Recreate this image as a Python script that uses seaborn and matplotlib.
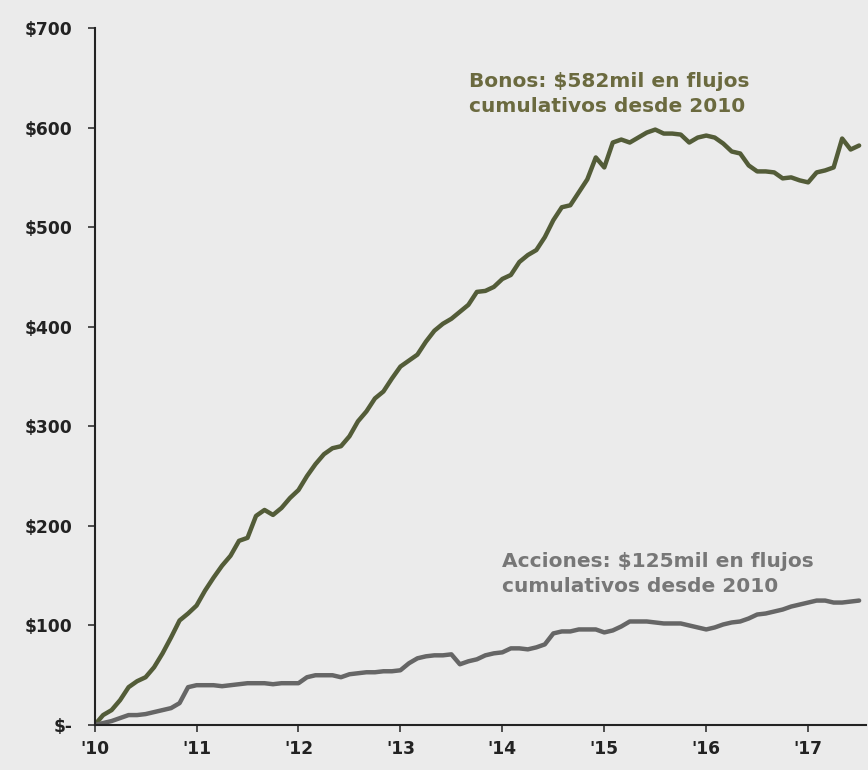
import numpy as np
import pandas as pd
import matplotlib
matplotlib.use("Agg")
import matplotlib.pyplot as plt
import seaborn as sns

# Monthly cumulative flows (USD bn), Jan 2010 .. Jul 2017
bonos = [0, 10, 15, 25, 38, 44, 48, 58, 72, 88, 105, 112,
         120, 135, 148, 160, 170, 185, 188, 210, 216, 211, 218, 228,
         236, 250, 262, 272, 278, 280, 290, 305, 315, 328, 335, 348,
         360, 366, 372, 385, 396, 403, 408, 415, 422, 435, 436, 440,
         448, 452, 465, 472, 477, 490, 507, 520, 522, 535, 548, 570,
         560, 585, 588, 585, 590, 595, 598, 594, 594, 593, 585, 590,
         592, 590, 584, 576, 574, 562, 556, 556, 555, 549, 550, 547,
         545, 555, 557, 560, 589, 578, 582]
acciones = [0, 2, 4, 7, 10, 10, 11, 13, 15, 17, 22, 38,
            40, 40, 40, 39, 40, 41, 42, 42, 42, 41, 42, 42,
            42, 48, 50, 50, 50, 48, 51, 52, 53, 53, 54, 54,
            55, 62, 67, 69, 70, 70, 71, 61, 64, 66, 70, 72,
            73, 77, 77, 76, 78, 81, 92, 94, 94, 96, 96, 96,
            93, 95, 99, 104, 104, 104, 103, 102, 102, 102, 100, 98,
            96, 98, 101, 103, 104, 107, 111, 112, 114, 116, 119, 121,
            123, 125, 125, 123, 123, 124, 125]
year_ticks = [2010, 2011, 2012, 2013, 2014, 2015, 2016, 2017]
year_labels = ["'10", "'11", "'12", "'13", "'14", "'15", "'16", "'17"]
y_ticks = [0, 100, 200, 300, 400, 500, 600, 700]
y_labels = ["$-", "$100", "$200", "$300", "$400", "$500", "$600", "$700"]

t = 2010 + np.arange(len(bonos)) / 12.0
df = pd.DataFrame({
    "t": np.concatenate([t, t]),
    "valor": bonos + acciones,
    "serie": ["Bonos"] * len(bonos) + ["Acciones"] * len(acciones),
})

bg = "#ebebeb"
sns.set_style("ticks")
plt.rcParams["font.family"] = ["DejaVu Sans"]

fig = plt.figure(figsize=(8.68, 7.70), dpi=100, facecolor=bg)
ax = fig.add_axes([0.109, 0.0584, 0.889, 0.9052])
ax.set_facecolor(bg)

palette = {"Bonos": "#535c38", "Acciones": "#666666"}
sns.lineplot(data=df, x="t", y="valor", hue="serie", palette=palette,
             linewidth=3.2, legend=False, ax=ax)

ax.set_xlim(2010, 2017.57)
ax.set_ylim(0, 700)
ax.set_xticks(year_ticks)
ax.set_xticklabels(year_labels)
ax.set_yticks(y_ticks)
ax.set_yticklabels(y_labels)
ax.set_xlabel("")
ax.set_ylabel("")
for lab in ax.get_xticklabels() + ax.get_yticklabels():
    lab.set_fontweight("bold")
    lab.set_fontsize(12.3)
    lab.set_color("#222222")
ax.tick_params(axis="both", direction="out", length=5, width=1.2, color="#333333")
ax.tick_params(axis="y", pad=11)
ax.tick_params(axis="x", pad=6)
for s in ["top", "right"]:
    ax.spines[s].set_visible(False)
for s in ["left", "bottom"]:
    ax.spines[s].set_color("#222222")
    ax.spines[s].set_linewidth(1.5)

ax.text(2013.67, 634, "Bonos: $582mil en flujos\ncumulativos desde 2010",
        fontsize=14.5, fontweight="bold", color="#6b6a3f", ha="left", va="center",
        linespacing=1.4)
ax.text(2014.0, 152, "Acciones: $125mil en flujos\ncumulativos desde 2010",
        fontsize=14.5, fontweight="bold", color="#777777", ha="left", va="center",
        linespacing=1.4)

fig.savefig("out.png", dpi=100, facecolor=bg)
